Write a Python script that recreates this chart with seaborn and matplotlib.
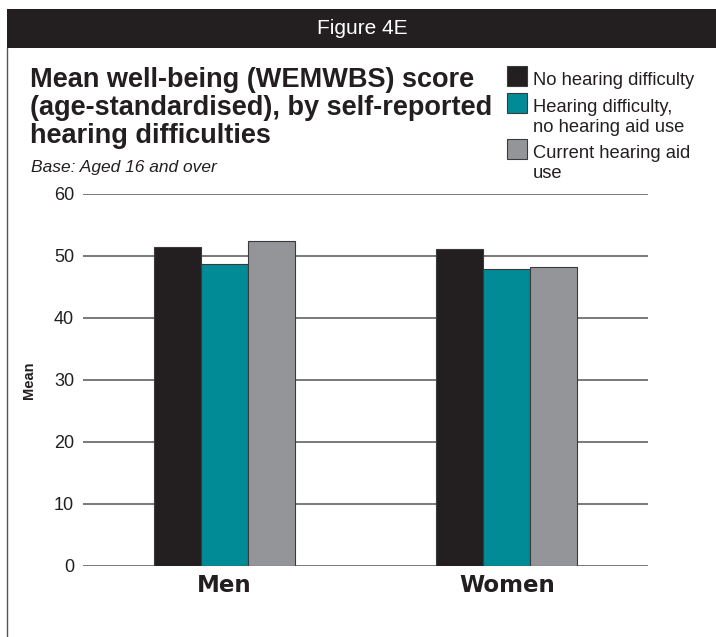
import pandas as pd
import matplotlib.pyplot as plt
import seaborn as sns
from matplotlib.patches import Rectangle
from matplotlib.lines import Line2D

# Values
groups = ["Men", "Women"]
categories = ["No hearing difficulty",
              "Hearing difficulty,\nno hearing aid use",
              "Current hearing aid\nuse"]
no_difficulty = [51.4, 51.1]
difficulty_no_aid = [48.7, 47.9]
hearing_aid = [52.4, 48.3]
colors = ["#231f20", "#008b96", "#939598"]

title_lines = ["Mean well-being (WEMWBS) score",
               "(age-standardised), by self-reported",
               "hearing difficulties"]

df = pd.DataFrame({
    "group": groups * 3,
    "category": [categories[0]] * 2 + [categories[1]] * 2 + [categories[2]] * 2,
    "mean": no_difficulty + difficulty_no_aid + hearing_aid,
})

sns.set_style("white")
plt.rcParams["font.family"] = ["Liberation Sans", "DejaVu Sans"]
ink = "#231f20"

W, H = 716, 637
fig = plt.figure(figsize=(W / 100, H / 100), dpi=100)


def fx(x):
    return x / W


def fy(y):
    return 1 - y / H


ax = fig.add_axes([fx(83), fy(566), fx(648) - fx(83), fy(194) - fy(566)])

sns.barplot(data=df, x="group", y="mean", hue="category", palette=colors,
            saturation=1, width=0.5, edgecolor="#3a3a3a", linewidth=0.8,
            ax=ax, legend=False)

ax.set_xlim(-0.5, 1.5)
ax.set_ylim(0, 60)
ax.set_yticks(range(0, 61, 10))
ax.yaxis.grid(True, color="#555555", linewidth=1.1)
ax.set_axisbelow(True)
for s in ax.spines.values():
    s.set_visible(False)
ax.tick_params(axis="both", length=0)
ax.tick_params(axis="y", labelsize=13, pad=6.5, colors=ink)
ax.set_xticks([0, 1])
ax.set_xticklabels(groups, fontsize=16.5, fontweight="bold",
                   family=["DejaVu Sans"], color=ink)
ax.tick_params(axis="x", pad=6)
ax.set_xlabel("")
ax.set_ylabel("Mean", fontsize=10.5, fontweight="bold", color=ink)
ax.yaxis.set_label_coords(-0.083, 0.5)

# header band and left border
fig.patches.append(Rectangle((fx(7), fy(48)), 1 - fx(7), fy(9) - fy(48),
                             transform=fig.transFigure, facecolor=ink,
                             edgecolor="none"))
fig.text(fx(362), fy(29), "Figure 4E", color="white", fontsize=15,
         ha="center", va="center")
fig.lines.append(Line2D([fx(7.5), fx(7.5)], [0.0, fy(48)],
                        transform=fig.transFigure, color="#555555",
                        linewidth=1))

# title and subtitle
for line, base in zip(title_lines, [87, 115, 143]):
    fig.text(fx(30), fy(base), line, fontsize=19.5, fontweight="bold",
             va="baseline", ha="left", color=ink)
fig.text(fx(31), fy(172), "Base: Aged 16 and over", fontsize=12.5,
         style="italic", va="baseline", ha="left", color=ink)

# legend (square aligned with the first line of each entry)
first_baselines = [85, 112, 158]
for cat, col, base in zip(categories, colors, first_baselines):
    fig.patches.append(Rectangle((fx(507), fy(base + 1)), fx(20), 20 / H,
                                 transform=fig.transFigure, facecolor=col,
                                 edgecolor="#3a3a3a", linewidth=0.8))
    for i, part in enumerate(cat.split("\n")):
        fig.text(fx(533), fy(base + 20 * i), part, fontsize=13.2,
                 va="baseline", ha="left", color=ink)

fig.savefig("out.png", dpi=100)
